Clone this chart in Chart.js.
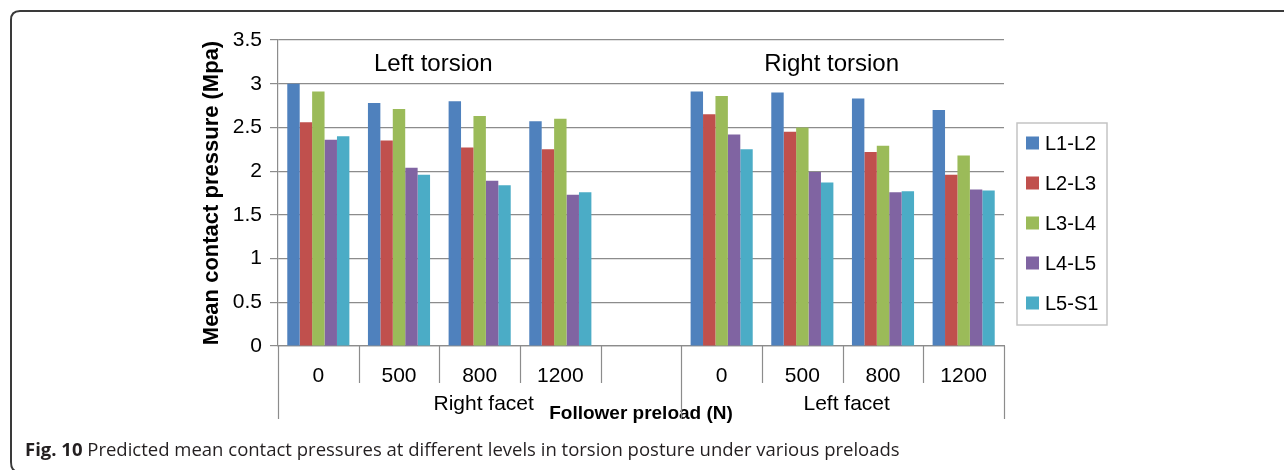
<!DOCTYPE html>
<html>
<head>
<meta charset="utf-8">
<script src="https://cdn.jsdelivr.net/npm/chart.js@4.4.1/dist/chart.umd.min.js"></script>
<style>
  html, body { margin: 0; padding: 0; background: #fff; }
  #wrap { width: 1284px; height: 470px; }
</style>
</head>
<body>
<div id="wrap"><canvas id="chart" width="1284" height="470"></canvas></div>
<script>
// categories: two groups of follower preloads with an empty slot between them
const categories = ['0', '500', '800', '1200', '', '0', '500', '800', '1200'];
const groupLabels = ['Right facet', 'Left facet'];
const groupRanges = [[0, 4], [5, 8]];
const torsionLabels = ['Left torsion', 'Right torsion'];

const levelNames = ['L1-L2', 'L2-L3', 'L3-L4', 'L4-L5', 'L5-S1'];
const levelColors = ['#4F81BD', '#C0504D', '#9BBB59', '#8064A2', '#4BACC6'];

const l1l2 = [3.00, 2.78, 2.80, 2.57, null, 2.91, 2.90, 2.83, 2.70];
const l2l3 = [2.56, 2.35, 2.27, 2.25, null, 2.65, 2.45, 2.22, 1.96];
const l3l4 = [2.91, 2.71, 2.63, 2.60, null, 2.86, 2.50, 2.29, 2.18];
const l4l5 = [2.36, 2.04, 1.89, 1.73, null, 2.42, 1.99, 1.76, 1.79];
const l5s1 = [2.40, 1.96, 1.84, 1.76, null, 2.25, 1.87, 1.77, 1.78];

const seriesValues = [l1l2, l2l3, l3l4, l4l5, l5s1];

const captionBold = 'Fig. 10';
const captionText = ' Predicted mean contact pressures at different levels in torsion posture under various preloads';

const SANS = '"Liberation Sans", Arial, sans-serif';
const GRID = '#8c8c8c';

// frame, caption, group labels, separators and legend
const extras = {
  id: 'extras',
  beforeDraw(chart) {
    const ctx = chart.ctx;
    ctx.save();
    ctx.fillStyle = '#fff';
    ctx.fillRect(0, 0, chart.width, chart.height);
    // figure frame: top rule and left rule with rounded corners
    ctx.strokeStyle = '#3a3a3a';
    ctx.lineWidth = 2;
    ctx.beginPath();
    ctx.moveTo(chart.width + 2, 11);
    ctx.lineTo(20, 11);
    ctx.quadraticCurveTo(11, 11, 11, 20);
    ctx.lineTo(11, 462);
    ctx.quadraticCurveTo(11, 469, 15, 471);
    ctx.stroke();
    ctx.restore();
  },
  afterDraw(chart) {
    const ctx = chart.ctx;
    const x = chart.scales.x, y = chart.scales.y;
    const area = chart.chartArea;
    const slot = (x.getPixelForValue(1) - x.getPixelForValue(0));
    ctx.save();

    // category separators below the axis
    ctx.strokeStyle = GRID;
    ctx.lineWidth = 1.2;
    const longAt = [];
    groupRanges.forEach(r => { longAt.push(r[0]); });
    longAt.push(categories.length);
    for (let i = 0; i <= categories.length; i++) {
      const px = Math.round(x.getPixelForValue(0) - slot / 2 + i * slot) + 0.5;
      const len = longAt.includes(i) ? 73 : 37;
      ctx.beginPath();
      ctx.moveTo(px, area.bottom);
      ctx.lineTo(px, area.bottom + len);
      ctx.stroke();
    }

    // group labels
    ctx.fillStyle = '#000';
    ctx.font = '21px ' + SANS;
    ctx.textAlign = 'center';
    ctx.textBaseline = 'middle';
    groupRanges.forEach((r, i) => {
      const cx = (x.getPixelForValue(r[0]) + x.getPixelForValue(r[1])) / 2;
      ctx.fillText(groupLabels[i], cx + 4, area.bottom + 58);
    });

    // torsion labels inside the plot
    ctx.font = '24px ' + SANS;
    const ty = y.getPixelForValue(3.22);
    ctx.fillText(torsionLabels[0], (x.getPixelForValue(1) + x.getPixelForValue(2)) / 2 - 6, ty);
    ctx.fillText(torsionLabels[1], (x.getPixelForValue(6) + x.getPixelForValue(7)) / 2 - 11, ty);

    // legend box
    const lx = 1017, ly = 123, lw = 90, lh = 202;
    ctx.strokeStyle = '#c4c4c4';
    ctx.lineWidth = 1.5;
    ctx.strokeRect(lx, ly, lw, lh);
    ctx.font = '20px ' + SANS;
    ctx.textAlign = 'left';
    chart.data.datasets.forEach((ds, i) => {
      const cy = ly + 20 + i * 40;
      ctx.fillStyle = ds.backgroundColor;
      ctx.fillRect(lx + 9, cy - 6.5, 13, 13);
      ctx.fillStyle = '#000';
      ctx.fillText(ds.label, lx + 28, cy + 1);
    });

    // caption
    ctx.textBaseline = 'middle';
    ctx.fillStyle = '#231f20';
    ctx.font = 'bold 18.5px "Open Sans", sans-serif';
    ctx.fillText(captionBold, 25, 451);
    const bw = ctx.measureText(captionBold).width;
    ctx.font = '18.5px "Open Sans", sans-serif';
    ctx.fillText(captionText, 25 + bw, 451);
    ctx.restore();
  }
};

const datasets = levelNames.map((name, i) => ({
  label: name,
  data: seriesValues[i],
  backgroundColor: levelColors[i],
  borderWidth: 0,
  categoryPercentage: 0.77,
  barPercentage: 1.0
}));

new Chart(document.getElementById('chart'), {
  type: 'bar',
  data: { labels: categories, datasets: datasets },
  plugins: [extras],
  options: {
    responsive: false,
    animation: false,
    layout: { padding: { left: 190, right: 280, top: 40, bottom: 0 } },
    plugins: {
      legend: { display: false },
      tooltip: { enabled: false }
    },
    scales: {
      x: {
        grid: { display: false },
        border: { display: true, color: GRID, width: 1.2 },
        ticks: {
          color: '#000',
          font: { family: SANS, size: 21 },
          padding: 10,
          maxRotation: 0,
          autoSkip: false
        },
        title: {
          display: true,
          text: 'Follower preload (N)',
          color: '#000',
          font: { family: SANS, size: 19, weight: 'bold' },
          padding: { top: 0, bottom: 45 }
        },
        afterFit(scale) { scale.height = 124; }
      },
      y: {
        min: 0,
        max: 3.5,
        grid: { color: GRID, lineWidth: 1.2, tickLength: 8 },
        border: { display: true, color: GRID, width: 1.2 },
        ticks: {
          stepSize: 0.5,
          color: '#000',
          padding: 8,
          font: { family: SANS, size: 21 },
          callback: v => String(v)
        },
        title: {
          display: true,
          text: 'Mean contact pressure (Mpa)',
          color: '#000',
          font: { family: SANS, size: 22, weight: 'bold' },
          padding: { top: 9, bottom: 0 }
        },
        afterFit(scale) { scale.width = 88; }
      }
    }
  }
});
</script>
</body>
</html>
